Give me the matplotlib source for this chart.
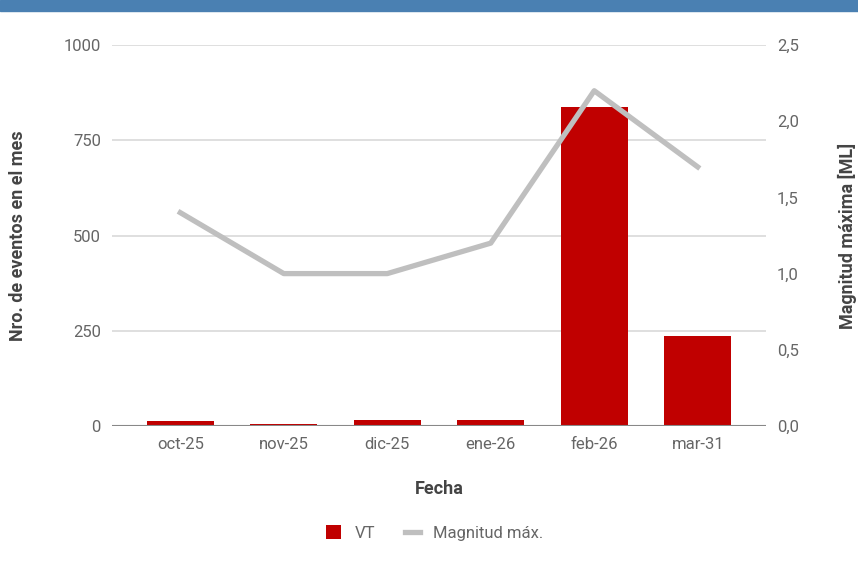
import matplotlib.pyplot as plt
from matplotlib.patches import Rectangle
import numpy as np

plt.rcParams['font.family'] = ['Roboto', 'DejaVu Sans']

fechas = ["oct-25", "nov-25", "dic-25", "ene-26", "feb-26", "mar-31"]
eventos_vt = [12, 4, 17, 17, 837, 236]
magnitud_max = [1.4, 1.0, 1.0, 1.2, 2.2, 1.7]

gris = "#666666"
x = np.arange(len(fechas))

fig = plt.figure(figsize=(8.58, 5.78), dpi=100)
# franja azul superior
fig.patches.append(Rectangle((0, 1 - 11 / 578), 1, 11 / 578, transform=fig.transFigure,
                             color="#4a80b2", zorder=0))

ax = fig.add_axes([112 / 858, 1 - 426 / 578, (766 - 112) / 858, (426 - 45) / 578])
ax.bar(x, eventos_vt, width=0.65, color="#c00000", label="VT", zorder=2)
ax.set_xlim(-0.66, 5.66)
ax.set_ylim(0, 1000)
ax.set_yticks([0, 250, 500, 750, 1000])
ax.set_xticks(x)
ax.set_xticklabels(fechas)
ax.grid(axis="y", color="#d9d9d9", lw=1.2, zorder=0)
ax.axhline(0, color="#888888", lw=1.5, zorder=3)
for s in ax.spines.values():
    s.set_visible(False)
ax.tick_params(length=0, colors=gris, labelsize=12, pad=8)
ax.set_ylabel("Nro. de eventos en el mes", fontsize=13, fontweight="bold", color="#444444", labelpad=26)
ax.set_xlabel("Fecha", fontsize=13, fontweight="bold", color="#444444", labelpad=20)

ax2 = ax.twinx()
ax2.plot(x, magnitud_max, color="#bfbfbf", lw=3.8, label="Magnitud máx.", zorder=4)
ax2.set_ylim(0, 2.5)
ax2.set_yticks([0, 0.5, 1.0, 1.5, 2.0, 2.5])
ax2.set_yticklabels(["0,0", "0,5", "1,0", "1,5", "2,0", "2,5"])
for s in ax2.spines.values():
    s.set_visible(False)
ax2.tick_params(length=0, colors=gris, labelsize=12, pad=8)
ax2.set_ylabel("Magnitud máxima [ML]", fontsize=13, fontweight="bold", color="#444444", labelpad=28)

h1, l1 = ax.get_legend_handles_labels()
h2, l2 = ax2.get_legend_handles_labels()
fig.legend(h1 + h2, l1 + l2, loc="center", bbox_to_anchor=(435 / 858, 1 - 533 / 578), ncol=2,
           frameon=False, fontsize=12, labelcolor=gris, handlelength=0.9, handleheight=0.9,
           handletextpad=0.8, columnspacing=1.8)

fig.savefig("out.png", dpi=100)
